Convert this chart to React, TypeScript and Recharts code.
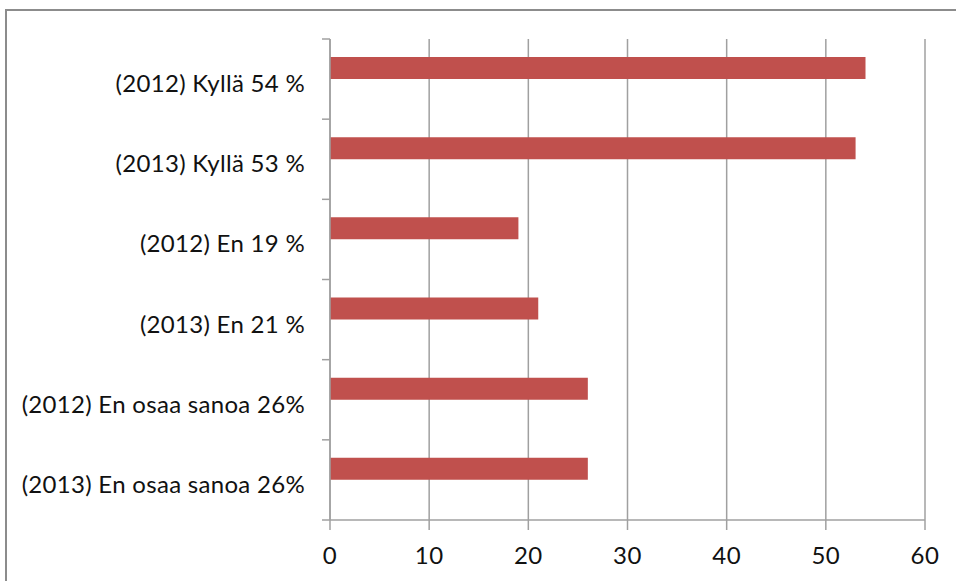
import React from "react";
import { Bar, BarChart, CartesianGrid, XAxis, YAxis } from "recharts";

const categories = [
  "(2012) Kyllä 54 %",
  "(2013) Kyllä 53 %",
  "(2012) En 19 %",
  "(2013) En 21 %",
  "(2012) En osaa sanoa 26%",
  "(2013) En osaa sanoa 26%",
];
const shares = [54, 53, 19, 21, 26, 26];
const xTicks = [0, 10, 20, 30, 40, 50, 60];

const rows = categories.map((name, i) => ({ name, share: shares[i] }));

const W = 956;
const H = 581;
const TOP = 39;
const AXIS_X = 330;
const BOTTOM = 520;
const BAND = (BOTTOM - TOP) / categories.length;
const LINE = "#a0a0a0";
const FONT = 24;

// category label at band centre, plus Excel-style tick marks on the band edges
function CategoryTick({ x, y, payload, index }: any) {
  const up = y - BAND / 2;
  const down = y + BAND / 2;
  return (
    <g>
      <line x1={AXIS_X - 8} x2={AXIS_X} y1={up} y2={up} stroke={LINE} strokeWidth={1.5} />
      {index === categories.length - 1 && (
        <line x1={AXIS_X - 8} x2={AXIS_X} y1={down} y2={down} stroke={LINE} strokeWidth={1.5} />
      )}
      <text x={x} y={y} dy={13} textAnchor="end" fill="#111" fontSize={FONT} letterSpacing={0.3}>
        {payload.value}
      </text>
    </g>
  );
}

export default function App() {
  return (
    <div
      style={{
        position: "absolute",
        left: 0,
        top: 0,
        width: W,
        height: H,
        overflow: "hidden",
        background: "#fff",
        fontFamily: "Lato, 'Open Sans', sans-serif",
      }}
    >
      <div
        style={{
          position: "absolute",
          left: 5,
          top: 9,
          width: 980,
          height: 600,
          border: "2px solid #8c8c8c",
        }}
      />
      <div style={{ position: "absolute", left: 0, top: 0 }}>
        <BarChart
          width={W}
          height={H}
          data={rows}
          layout="vertical"
          margin={{ top: TOP, right: W - 925, bottom: 0, left: 0 }}
          barCategoryGap={18}
          barGap={0}
        >
          <CartesianGrid horizontal={false} stroke={LINE} strokeWidth={1.5} />
          <XAxis
            type="number"
            domain={[0, 60]}
            ticks={xTicks}
            interval={0}
            height={H - BOTTOM}
            tickSize={10}
            tickMargin={17}
            axisLine={{ stroke: LINE, strokeWidth: 1.5 }}
            tickLine={{ stroke: LINE, strokeWidth: 1.5 }}
            tick={{ fill: "#111", fontSize: FONT, letterSpacing: 0.5 }}
          />
          <YAxis
            type="category"
            dataKey="name"
            width={AXIS_X}
            tickSize={8}
            tickMargin={17}
            tickLine={false}
            axisLine={{ stroke: LINE, strokeWidth: 1.5 }}
            tick={<CategoryTick />}
            interval={0}
          />
          <Bar dataKey="share" fill="#C0504D" isAnimationActive={false} />
          {/* empty second series keeps the bars in the upper half of each band */}
          <Bar dataKey="other" fill="#4F81BD" isAnimationActive={false} />
        </BarChart>
      </div>
    </div>
  );
}
